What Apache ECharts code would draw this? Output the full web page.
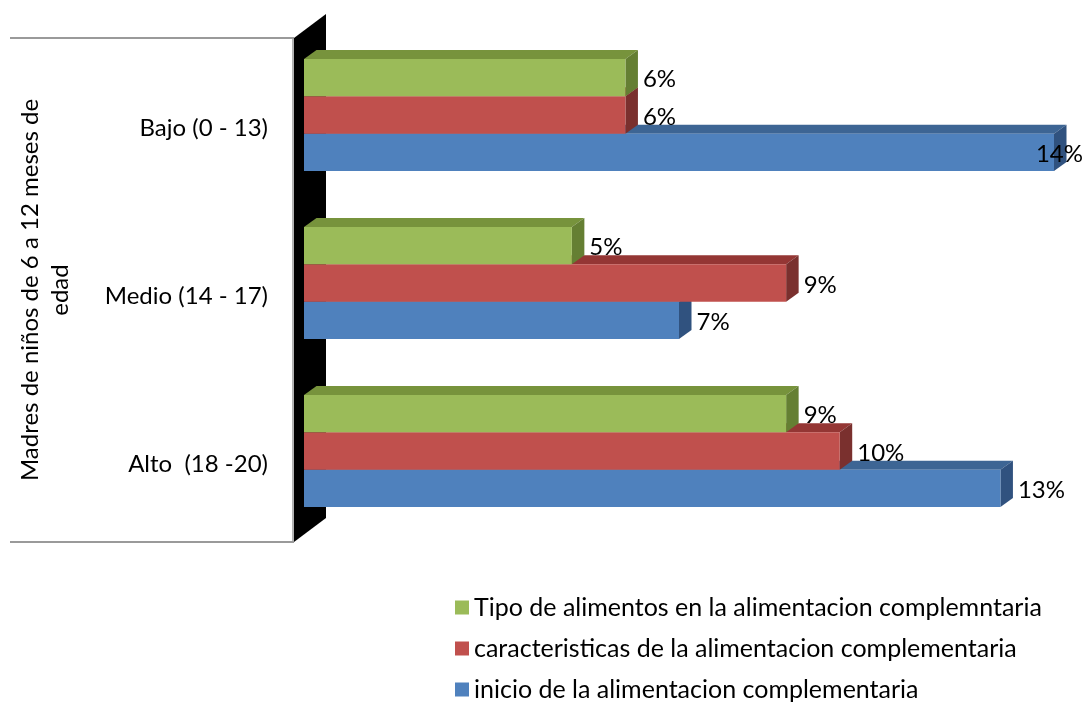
<!DOCTYPE html>
<html>
<head>
<meta charset="utf-8">
<script src="https://cdn.jsdelivr.net/npm/echarts@6/dist/echarts.min.js"></script>
<style>html,body{margin:0;padding:0;background:#fff;}#c{width:1085px;height:703px;}</style>
</head>
<body>
<div id="c"></div>
<script>
const categories = ['Bajo (0 - 13)', 'Medio (14 - 17)', 'Alto  (18 -20)'];
const seriesNames = [
  'Tipo de alimentos en la alimentacion complemntaria',
  'caracteristicas de la alimentacion complementaria',
  'inicio de la alimentacion complementaria'
];
const tipoValues = [6, 5, 9];
const caracteristicasValues = [6, 9, 10];
const inicioValues = [14, 7, 13];
const axisTitle = 'Madres de niños de 6 a 12 meses de\nedad';

const FONT = 'Lato';
const FS = 24;
const GRID = {left: 304, top: 31, width: 750, height: 504};
const DX = 12.5, DY = 9;        // bar depth
const styles = [
  {front: '#9BBB59', top: '#77933C', side: '#657F33'},
  {front: '#C0504D', top: '#943634', side: '#7A302E'},
  {front: '#4F81BD', top: '#3D6594', side: '#30527F'}
];
const valueSets = [tipoValues, caracteristicasValues, inicioValues];

function makeRender(slot) {
  const st = styles[slot];
  return function (params, api) {
    const v = api.value(0), c = api.value(1);
    const p0 = api.coord([0, c]);
    const p1 = api.coord([v, c]);
    const band = api.size([0, 1])[1];
    const group = band / 1.5;
    const h = group / 3;
    const top = p0[1] - group / 2 + slot * h;
    const x0 = p0[0], x1 = p1[0];
    let lx = x1 + DX + 5, align = 'left';
    if (lx + 48 > api.getWidth()) { lx = api.getWidth() - 2; align = 'right'; }
    return {
      type: 'group',
      children: [
        {type: 'polygon', shape: {points: [[x0, top], [x0 + DX, top - DY], [x1 + DX, top - DY], [x1, top]]},
          style: {fill: st.top}},
        {type: 'polygon', shape: {points: [[x1, top], [x1 + DX, top - DY], [x1 + DX, top + h - DY], [x1, top + h]]},
          style: {fill: st.side}},
        {type: 'rect', shape: {x: x0, y: top, width: x1 - x0, height: h}, style: {fill: st.front}},
        {type: 'text', style: {text: v + '%', x: lx, y: top + h / 2 + 2, align: align, verticalAlign: 'middle',
          fill: '#000', font: FS + 'px ' + FONT}}
      ]
    };
  };
}

// draw order: bottom bars first so upper bars cover their top faces
const order = [2, 1, 0];
const series = order.map(slot => ({
  type: 'custom',
  name: seriesNames[slot],
  renderItem: makeRender(slot),
  itemStyle: {color: styles[slot].front},
  encode: {x: 0, y: 1},
  data: valueSets[slot].map((v, i) => [v, i])
}));

const gl = GRID.left, gt = GRID.top, gb = GRID.top + GRID.height;
const FRONT = [-10, 7], BACK = [22, -17];
const graphic = [
  {type: 'polygon', z: 1, shape: {points: [
    [gl + FRONT[0], gt + FRONT[1]], [gl + BACK[0], gt + BACK[1]],
    [gl + BACK[0], gb + BACK[1]], [gl + FRONT[0], gb + FRONT[1]]]},
    style: {fill: '#000'}},
  {type: 'line', z: 1, shape: {x1: 10, y1: gt + FRONT[1], x2: gl + FRONT[0], y2: gt + FRONT[1]},
    style: {stroke: '#9a9a9a', lineWidth: 2}},
  {type: 'line', z: 1, shape: {x1: 10, y1: gb + FRONT[1], x2: gl + FRONT[0], y2: gb + FRONT[1]},
    style: {stroke: '#9a9a9a', lineWidth: 2}},
  {type: 'line', z: 1, shape: {x1: gl + FRONT[0] - 1, y1: gt + FRONT[1], x2: gl + FRONT[0] - 1, y2: gb + FRONT[1]},
    style: {stroke: '#9a9a9a', lineWidth: 1.5}}
];

const chart = echarts.init(document.getElementById('c'));
chart.setOption({
  backgroundColor: '#fff',
  animation: false,
  textStyle: {fontFamily: FONT},
  grid: {left: GRID.left, top: GRID.top, width: GRID.width, height: GRID.height,
    containLabel: false, outerBoundsMode: 'none'},
  xAxis: {type: 'value', min: 0, max: 14, show: false},
  yAxis: {
    type: 'category', data: categories, inverse: true,
    axisLine: {show: false}, axisTick: {show: false}, splitLine: {show: false},
    axisLabel: {margin: 36, fontSize: FS, color: '#000', fontFamily: FONT, verticalAlign: 'top', lineHeight: 26},
    name: axisTitle, nameLocation: 'middle', nameRotate: 90, nameGap: 229,
    nameTextStyle: {fontSize: FS, color: '#000', fontFamily: FONT, lineHeight: 30, padding: [0, 14, 0, 0]}
  },
  legend: {
    orient: 'vertical', left: 455, top: 595, padding: 0, itemWidth: 14, itemHeight: 14, itemGap: 16,
    icon: 'rect',
    data: seriesNames,
    textStyle: {fontSize: 25, color: '#000', fontFamily: FONT}
  },
  graphic: graphic,
  series: series
});
</script>
</body>
</html>
